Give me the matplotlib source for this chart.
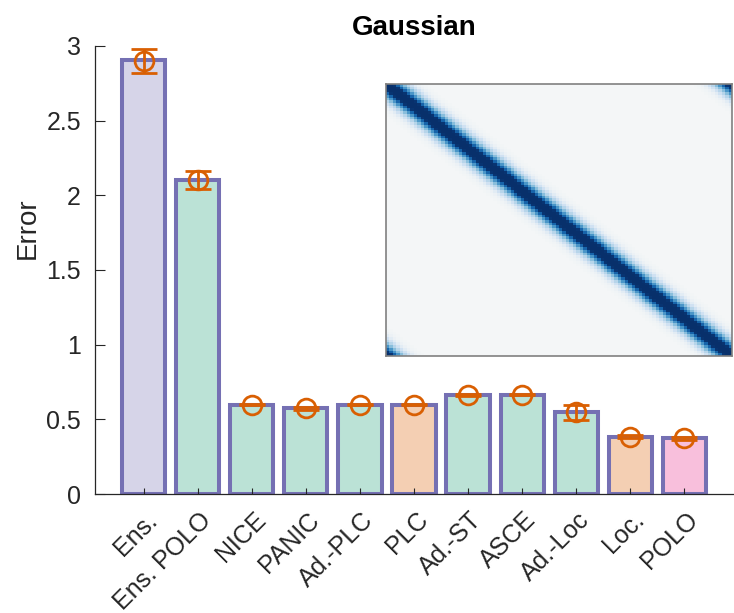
import numpy as np
import matplotlib
matplotlib.use("Agg")
import matplotlib.pyplot as plt
import matplotlib.transforms as mtransforms
from matplotlib.colors import LinearSegmentedColormap

plt.rcParams['font.family'] = ['Liberation Sans', 'DejaVu Sans']

methods = ["Ens.", "Ens. POLO", "NICE", "PANIC", "Ad.-PLC", "PLC",
           "Ad.-ST", "ASCE", "Ad.-Loc", "Loc.", "POLO"]
bar_values = [2.905, 2.10, 0.598, 0.575, 0.598, 0.598, 0.664, 0.664, 0.547, 0.385, 0.372]
err_means = [2.90, 2.10, 0.598, 0.575, 0.598, 0.598, 0.664, 0.664, 0.547, 0.385, 0.372]
err_sizes = [0.083, 0.06, 0.005, 0.01, 0.005, 0.005, 0.005, 0.003, 0.05, 0.008, 0.008]
groups = ["ens", "green", "green", "green", "green", "orange",
          "green", "green", "green", "orange", "pink"]

# inset: Gaussian kernel matrix (circulant)
kernel_n = 100
kernel_sigma = 3.3

group_colors = {"ens": "#7570b3", "green": "#1b9e77", "orange": "#d95f02", "pink": "#e7298a"}
edge_color = "#7570b3"
err_color = "#d95f02"
axis_color = "#262626"

fig = plt.figure(figsize=(7.34, 6.13), dpi=100)
ax = fig.add_axes([95/734, 119/613, 638/734, 448/613])

x = np.arange(1, len(methods) + 1)
for xi, v, g in zip(x, bar_values, groups):
    c = matplotlib.colors.to_rgb(group_colors[g])
    fc = tuple(0.3 * ci + 0.7 for ci in c)
    ax.bar(xi, v, width=0.8, facecolor=fc, edgecolor=edge_color, linewidth=2.9, zorder=1)

ax.errorbar(x, err_means, yerr=err_sizes, fmt='o', color=err_color, mfc='none',
            mec=err_color, ms=13.5, mew=2.0, elinewidth=2.0, capsize=9.5, capthick=2.3,
            zorder=3)

ax.set_xlim(0.1, 11.9)
ax.set_ylim(0, 3)
ax.set_yticks([0, 0.5, 1, 1.5, 2, 2.5, 3])
ax.set_yticklabels(["0", "0.5", "1", "1.5", "2", "2.5", "3"])
ax.set_xticks(x)
ax.set_xticklabels(methods, rotation=45, ha='right', va='center', rotation_mode='anchor')
ax.tick_params(axis='both', direction='in', labelsize=18, colors=axis_color, width=0.8)
ax.tick_params(axis='y', length=7, pad=10)
ax.tick_params(axis='x', length=4, pad=16)
offset = mtransforms.ScaledTranslation(10/100, 0, fig.dpi_scale_trans)
for lab in ax.get_xticklabels():
    lab.set_transform(lab.get_transform() + offset)
for s in ['top', 'right']:
    ax.spines[s].set_visible(False)
for s in ['left', 'bottom']:
    ax.spines[s].set_color(axis_color)
    ax.spines[s].set_linewidth(0.9)
ax.set_ylabel("Error", fontsize=20, color=axis_color)
ax.yaxis.set_label_coords(-0.0846, (494 - 228) / 448)
ax.set_title("Gaussian", fontsize=20, fontweight='bold', pad=8)

# inset
idx = np.arange(kernel_n)
d = np.abs(idx[:, None] - idx[None, :])
d = np.minimum(d, kernel_n - d)
K = np.exp(-d**2 / (2 * kernel_sigma**2))
blues = plt.get_cmap('Blues')
cols = ["#f4f6f7"] + [blues(t) for t in np.linspace(0.2, 1.0, 8)]
cmap = LinearSegmentedColormap.from_list("kb", cols)
iax = fig.add_axes([386/734, (613-356)/613, 346/734, 272/613])
iax.imshow(K, cmap=cmap, aspect='auto', vmin=0.0, vmax=0.85, interpolation='nearest')
iax.set_xticks([])
iax.set_yticks([])
for s in iax.spines.values():
    s.set_color("#808080")
    s.set_linewidth(1.2)

fig.savefig("out.png", dpi=100)
